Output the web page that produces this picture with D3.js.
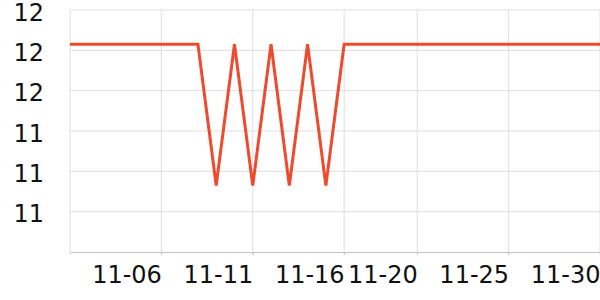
<!DOCTYPE html>
<html>
<head>
<meta charset="utf-8">
<script src="https://cdn.jsdelivr.net/npm/d3@7"></script>
<style>
  body { margin: 0; background: #fff; }
  svg { display: block; }
</style>
</head>
<body>
<svg id="chart" width="600" height="300"></svg>
<script>
const dates = ['11-01', '11-02', '11-03', '11-04', '11-05', '11-06', '11-07', '11-08', '11-09', '11-10',
    '11-11', '11-12', '11-13', '11-14', '11-15', '11-16', '11-17', '11-18', '11-19', '11-20',
    '11-21', '11-22', '11-23', '11-24', '11-25', '11-26', '11-27', '11-28', '11-29', '11-30'];
const values = [11.83, 11.83, 11.83, 11.83, 11.83, 11.83, 11.83, 11.83, 11.13, 11.83,
    11.13, 11.83, 11.13, 11.83, 11.13, 11.83, 11.83, 11.83, 11.83, 11.83,
    11.83, 11.83, 11.83, 11.83, 11.83, 11.83, 11.83, 11.83, 11.83, 11.83];
const xTickLabels = ['11-06', '11-11', '11-16', '11-20', '11-25', '11-30'];
const yTicks = [10.8, 11.0, 11.2, 11.4, 11.6, 11.8, 12.0];

const svg = d3.select('#chart');
const margin = { left: 70, right: 600, top: 10, bottom: 252 };
const font = '"DejaVu Sans", sans-serif';

const x = d3.scalePoint().domain(dates).range([margin.left, margin.right]);
const y = d3.scaleLinear().domain([10.8, 12.0]).range([margin.bottom, margin.top]);

// horizontal grid
svg.append('g').selectAll('line')
    .data(yTicks.slice(1))
    .enter().append('line')
    .attr('x1', margin.left).attr('x2', margin.right)
    .attr('y1', d => y(d)).attr('y2', d => y(d))
    .attr('stroke', '#dedede').attr('stroke-width', 1);

// vertical grid (incl. first category as left edge)
svg.append('g').selectAll('line')
    .data(['11-01'].concat(xTickLabels))
    .enter().append('line')
    .attr('x1', d => x(d)).attr('x2', d => x(d))
    .attr('y1', margin.top).attr('y2', margin.bottom + 3)
    .attr('stroke', '#dedede').attr('stroke-width', 1);

// bottom axis
const xAxis = svg.append('g')
    .attr('transform', `translate(0,${margin.bottom})`)
    .call(d3.axisBottom(x).tickValues(xTickLabels).tickSize(3).tickSizeOuter(0).tickPadding(0))
    .attr('font-family', font).attr('font-size', 24);
xAxis.select('.domain').attr('stroke', '#c4c4c4');
xAxis.selectAll('.tick line').attr('stroke', '#c4c4c4');
xAxis.selectAll('.tick text')
    .attr('fill', '#111')
    .attr('text-anchor', 'end')
    .attr('y', 31).attr('dy', 0);

// left labels
const yAxis = svg.append('g')
    .attr('transform', `translate(${margin.left},0)`)
    .call(d3.axisLeft(y).tickValues(yTicks.slice(1)).tickSize(0).tickPadding(26)
        .tickFormat(d => d3.format('.0f')(d)))
    .attr('font-family', font).attr('font-size', 24);
yAxis.select('.domain').remove();
yAxis.selectAll('.tick text')
    .attr('fill', '#111')
    .attr('dy', 10);

// line
const line = d3.line()
    .x((d, i) => x(dates[i]))
    .y(d => y(d));

svg.append('path')
    .datum(values)
    .attr('fill', 'none')
    .attr('stroke', '#ee4a2e')
    .attr('stroke-width', 3)
    .attr('stroke-linejoin', 'miter')
    .attr('d', line);
</script>
</body>
</html>
